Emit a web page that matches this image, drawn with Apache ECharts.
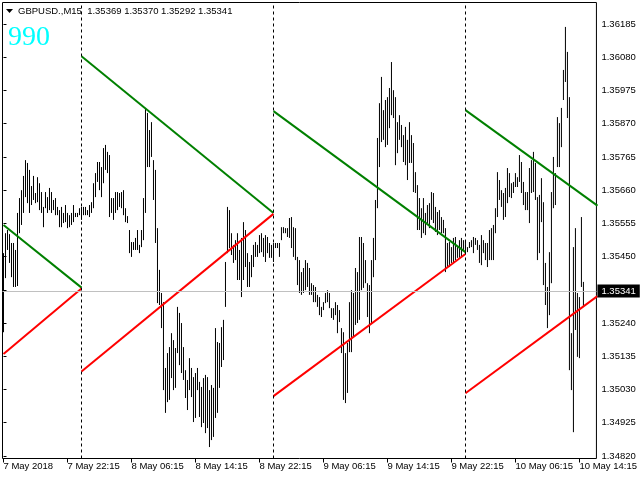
<!DOCTYPE html>
<html><head><meta charset="utf-8">
<script src="https://cdn.jsdelivr.net/npm/echarts@6/dist/echarts.min.js"></script>
<style>html,body{margin:0;padding:0;background:#fff}#c{width:640px;height:480px}</style>
</head><body><div id="c"></div>
<script>
// M15 bars, index 0 = 7 May 2018 14:15
const highs = [
1.35461,1.35524,1.35534,1.35521,1.35493,1.35493,1.35471,1.35588,1.35635,1.35660,
1.35705,1.35755,1.35746,1.35724,1.35673,1.35705,1.35651,1.35701,1.35682,1.35654,
1.35607,1.35654,1.35638,1.35667,1.35654,1.35629,1.35635,1.35607,1.35597,1.35607,
1.35588,1.35613,1.35588,1.35581,1.35588,1.35613,1.35588,1.35588,1.35603,1.35607,
1.35607,1.35607,1.35597,1.35613,1.35622,1.35682,1.35714,1.35749,1.35749,1.35733,
1.35793,1.35803,1.35781,1.35771,1.35635,1.35635,1.35654,1.35654,1.35651,1.35654,
1.35660,1.35603,1.35578,1.35534,1.35496,1.35496,1.35509,1.35534,1.35487,1.35534,
1.35635,1.35920,1.35904,1.35850,1.35875,1.35755,1.35724,1.35540,1.35408,1.35335,
1.35306,1.35098,1.35145,1.35164,1.35208,1.35186,1.35161,1.35291,1.35272,1.35240,
1.35164,1.35091,1.35060,1.35129,1.35098,1.35069,1.35082,1.35098,1.35054,1.35038,
1.35066,1.35076,1.35069,1.35028,1.35044,1.35035,1.35224,1.35180,1.35177,1.35227,
1.35250,1.35433,1.35607,1.35597,1.35524,1.35487,1.35502,1.35524,1.35471,1.35509,
1.35559,1.35534,1.35461,1.35433,1.35455,1.35487,1.35496,1.35487,1.35518,1.35524,
1.35509,1.35518,1.35512,1.35493,1.35487,1.35493,1.35493,1.35493,1.35493,1.35543,
1.35543,1.35540,1.35540,1.35572,1.35575,1.35543,1.35540,1.35449,1.35439,1.35401,
1.35414,1.35439,1.35430,1.35414,1.35366,1.35360,1.35354,1.35329,1.35322,1.35291,
1.35306,1.35335,1.35344,1.35335,1.35287,1.35287,1.35306,1.35297,1.35281,1.35224,
1.35211,1.35145,1.35177,1.35306,1.35344,1.35335,1.35414,1.35401,1.35512,1.35512,
1.35493,1.35439,1.35366,1.35360,1.35439,1.35509,1.35629,1.35825,1.35935,1.36018,
1.35913,1.35945,1.35954,1.35983,1.36065,1.35976,1.35954,1.35875,1.35897,1.35866,
1.35834,1.35860,1.35819,1.35875,1.35834,1.35809,1.35717,1.35676,1.35635,1.35603,
1.35635,1.35588,1.35613,1.35619,1.35654,1.35651,1.35607,1.35591,1.35597,1.35575,
1.35566,1.35540,1.35493,1.35496,1.35480,1.35509,1.35512,1.35480,1.35502,1.35509,
1.35502,1.35502,1.35480,1.35496,1.35502,1.35512,1.35509,1.35502,1.35487,1.35518,
1.35502,1.35493,1.35493,1.35534,1.35540,1.35550,1.35603,1.35717,1.35692,1.35660,
1.35651,1.35667,1.35730,1.35714,1.35682,1.35686,1.35714,1.35701,1.35771,1.35749,
1.35686,1.35654,1.35654,1.35730,1.35755,1.35781,1.35746,1.35638,1.35645,1.35698,
1.35622,1.35430,1.35354,1.35464,1.35654,1.35765,1.35714,1.35891,1.35872,1.35920,
1.36040,1.36176,1.36097,1.35954,1.35208,1.35480,1.35540,1.35335,1.35322,1.35575,
1.35370
];
const lows = [
1.35211,1.35382,1.35471,1.35430,1.35385,1.35354,1.35354,1.35357,1.35524,1.35550,
1.35588,1.35638,1.35619,1.35588,1.35613,1.35629,1.35619,1.35622,1.35597,1.35588,
1.35543,1.35603,1.35588,1.35597,1.35588,1.35597,1.35581,1.35581,1.35543,1.35543,
1.35556,1.35559,1.35540,1.35543,1.35550,1.35559,1.35575,1.35575,1.35581,1.35566,
1.35581,1.35581,1.35581,1.35575,1.35588,1.35603,1.35638,1.35686,1.35660,1.35638,
1.35682,1.35724,1.35714,1.35575,1.35588,1.35566,1.35588,1.35597,1.35607,1.35603,
1.35581,1.35559,1.35556,1.35461,1.35449,1.35471,1.35471,1.35471,1.35461,1.35480,
1.35502,1.35588,1.35733,1.35733,1.35765,1.35629,1.35493,1.35303,1.35297,1.35224,
1.35028,1.34956,1.34990,1.34997,1.35066,1.35028,1.35035,1.35145,1.35107,1.35082,
1.35060,1.35003,1.34965,1.35028,1.35006,1.34927,1.34940,1.35028,1.34943,1.34911,
1.34924,1.34892,1.34908,1.34848,1.34870,1.34880,1.34940,1.34956,1.35035,1.35101,
1.35123,1.35291,1.35461,1.35477,1.35455,1.35430,1.35439,1.35376,1.35376,1.35322,
1.35376,1.35417,1.35354,1.35354,1.35385,1.35417,1.35449,1.35449,1.35461,1.35464,
1.35449,1.35433,1.35461,1.35446,1.35446,1.35433,1.35477,1.35477,1.35449,1.35502,
1.35524,1.35524,1.35512,1.35509,1.35477,1.35449,1.35439,1.35360,1.35335,1.35329,
1.35335,1.35344,1.35354,1.35329,1.35329,1.35306,1.35306,1.35291,1.35265,1.35259,
1.35281,1.35303,1.35306,1.35287,1.35256,1.35250,1.35265,1.35208,1.35243,1.35145,
1.34997,1.34987,1.35019,1.35148,1.35148,1.35196,1.35234,1.35240,1.35250,1.35344,
1.35351,1.35366,1.35259,1.35208,1.35240,1.35385,1.35439,1.35603,1.35733,1.35812,
1.35819,1.35796,1.35803,1.35856,1.35897,1.35888,1.35739,1.35777,1.35819,1.35796,
1.35749,1.35739,1.35692,1.35746,1.35746,1.35654,1.35651,1.35534,1.35534,1.35509,
1.35524,1.35518,1.35556,1.35540,1.35566,1.35556,1.35528,1.35518,1.35534,1.35524,
1.35524,1.35401,1.35417,1.35417,1.35430,1.35433,1.35439,1.35446,1.35446,1.35449,
1.35471,1.35461,1.35464,1.35477,1.35480,1.35461,1.35487,1.35471,1.35430,1.35423,
1.35461,1.35439,1.35417,1.35439,1.35439,1.35439,1.35524,1.35575,1.35629,1.35607,
1.35566,1.35575,1.35619,1.35638,1.35635,1.35651,1.35670,1.35670,1.35686,1.35651,
1.35613,1.35597,1.35597,1.35556,1.35651,1.35654,1.35629,1.35439,1.35461,1.35559,
1.35360,1.35297,1.35224,1.35265,1.35366,1.35603,1.35613,1.35733,1.35733,1.35796,
1.35945,1.36002,1.35888,1.35091,1.35028,1.34895,1.35218,1.35133,1.35129,1.35354,
1.35292
];
const timeTickIdx = [0, 32, 64, 96, 128, 160, 192, 224, 256, 288];
const timeTickLabels = ['7 May 2018','7 May 22:15','8 May 06:15','8 May 14:15','8 May 22:15',
  '9 May 06:15','9 May 14:15','9 May 22:15','10 May 06:15','10 May 14:15'];
const priceTicks = [1.34820,1.34925,1.35030,1.35135,1.35240,1.35345,1.35450,1.35555,
  1.35660,1.35765,1.35870,1.35975,1.36080,1.36185];
const dayBreaks = [39, 135, 231];
const channelX = [[0, 39], [39, 135], [135, 231], [231, 297]];
const upperLine = [[1.35550, 1.35352], [1.36083, 1.35588], [1.35910, 1.35464], [1.35913, 1.35611]];
const lowerLine = [[1.35142, 1.35349], [1.35087, 1.35585], [1.35009, 1.35458], [1.35018, 1.35325]];
const lastPrice = 1.35341;
const symbolText = 'GBPUSD.,M15  1.35369 1.35370 1.35292 1.35341';
const indicatorText = '990';

const FONT = 'Liberation Sans';
const chart = echarts.init(document.getElementById('c'), null, {renderer: 'canvas'});

const series = [];
series.push({
  type: 'custom',
  z: 3,
  clip: true,
  data: highs.map((h, i) => [i, h, lows[i]]),
  encode: {x: 0, y: [1, 2]},
  renderItem: function (params, api) {
    const a = api.coord([api.value(0), api.value(1)]);
    const b = api.coord([api.value(0), api.value(2)]);
    return {type: 'line', shape: {x1: a[0], y1: a[1], x2: b[0], y2: Math.max(b[1], a[1] + 1)},
      style: {stroke: '#000', lineWidth: 1}};
  }
});
channelX.forEach((cx, k) => {
  series.push({type: 'line', z: 4, symbol: 'none', silent: true, clip: true,
    lineStyle: {color: '#008000', width: 2},
    data: [[cx[0], upperLine[k][0]], [cx[1], upperLine[k][1]]]});
  series.push({type: 'line', z: 4, symbol: 'none', silent: true, clip: true,
    lineStyle: {color: '#ff0000', width: 2},
    data: [[cx[0], lowerLine[k][0]], [cx[1], lowerLine[k][1]]]});
});
series.push({type: 'line', z: 1, data: [], silent: true,
  markLine: {silent: true, symbol: 'none', animation: false, precision: 5,
    data: [{yAxis: lastPrice}],
    lineStyle: {color: '#c0c0c0', width: 1, type: 'solid'},
    label: {show: true, position: 'end', distance: 1, formatter: lastPrice.toFixed(5),
      backgroundColor: '#000', color: '#fff', fontFamily: FONT, fontSize: 9.5,
      padding: [2, 4, 1, 4]}
  }});
series.push({type: 'line', z: 2, data: [], silent: true,
  markLine: {silent: true, symbol: 'none', animation: false, precision: 5,
    data: dayBreaks.map(d => ({xAxis: d})),
    lineStyle: {color: '#000', width: 1, type: [3, 3]},
    label: {show: false}
  }});

chart.setOption({
  animation: false,
  backgroundColor: '#fff',
  grid: {left: 2.5, top: 2.5, width: 594, height: 456, show: true,
    borderColor: '#000', borderWidth: 1, backgroundColor: '#fff'},
  xAxis: {type: 'value', min: -0.5, max: 296.5,
    axisLine: {show: false}, splitLine: {show: false},
    axisTick: {show: true, customValues: timeTickIdx, length: 4, lineStyle: {color: '#000'}},
    axisLabel: {customValues: timeTickIdx, color: '#000', fontFamily: FONT, fontSize: 9.5,
      align: 'left', margin: 3, hideOverlap: false,
      formatter: v => timeTickLabels[timeTickIdx.indexOf(v)]}
  },
  yAxis: {type: 'value', position: 'right', min: 1.348118, max: 1.362532, scale: true,
    axisLine: {show: false}, splitLine: {show: false},
    axisTick: {show: true, customValues: priceTicks, length: 3, lineStyle: {color: '#000'}},
    axisLabel: {customValues: priceTicks, color: '#000', fontFamily: FONT, fontSize: 9.5,
      margin: 5, hideOverlap: false, formatter: v => v.toFixed(5)}
  },
  graphic: [
    {type: 'polygon', shape: {points: [[6, 9], [13, 9], [9.5, 13]]}, style: {fill: '#000'}, z: 10},
    {type: 'text', x: 18, y: 11, z: 10, style: {text: symbolText, fill: '#000',
      font: '9.5px "' + FONT + '"', textVerticalAlign: 'middle'}},
    {type: 'text', x: 8, y: 38, z: 10, style: {text: indicatorText, fill: '#00ffff',
      font: '28px "Liberation Serif"', textVerticalAlign: 'middle'}}
  ],
  series: series
});
</script></body></html>
